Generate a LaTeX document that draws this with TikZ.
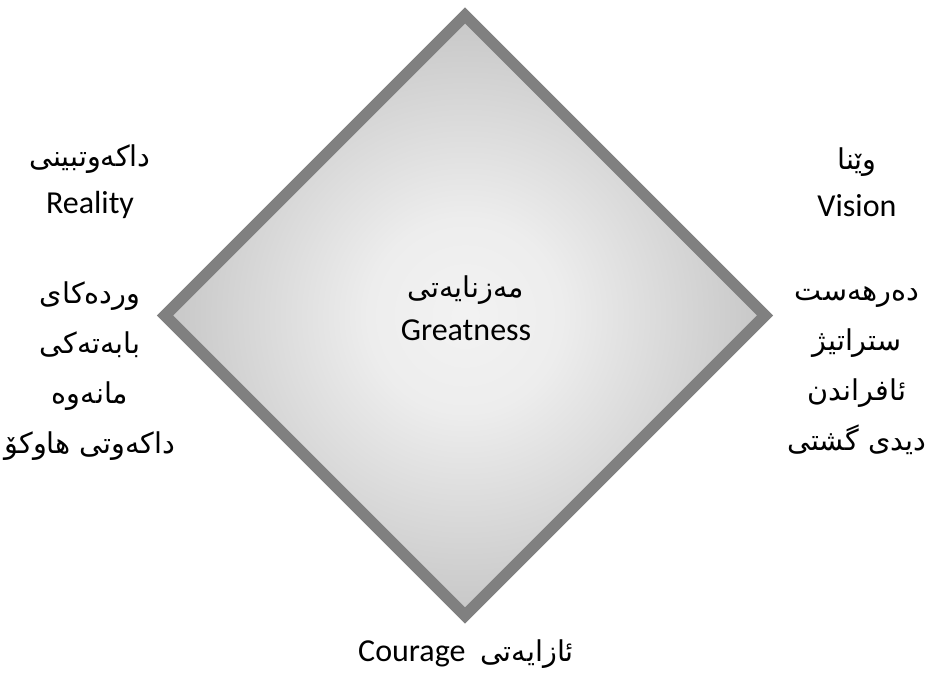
\documentclass[tikz,border=0pt]{standalone}
\usepackage{fontspec}
\setmainfont{Carlito}
\newfontfamily\arabicfont[Script=Arabic]{DejaVu Sans}
\TeXXeTstate=1
\newcommand{\ku}[1]{{\arabicfont\fontsize{21.5}{21.5}\selectfont\beginR #1\endR}}
\usetikzlibrary{shapes.geometric,positioning}
\pgfdeclareradialshading{greatglow}{\pgfpoint{0bp}{0bp}}{color(0bp)=(black!5); color(8bp)=(black!7); color(25bp)=(black!22); color(50bp)=(black!22)}

\begin{document}
\begin{tikzpicture}[
x=0.75pt, y=0.75pt,
dia/.style={diamond, aspect=1, draw=black!50, line width=8.5pt, shading=greatglow, minimum width=450pt, minimum height=450pt, inner sep=0pt, outer sep=0pt},
lbl/.style={align=center, inner sep=0pt, font=\fontsize{24}{35}\selectfont},
lst/.style={lbl, font=\fontsize{24}{37.5}\selectfont}
]
\useasboundingbox (0,0) rectangle (933,673);
\node[dia] (dia) at (465,357.5) {};
\node[lbl, font=\fontsize{24}{32}\selectfont] (great) at (466,365) {\ku{مەزنایەتی}\\Greatness};

% left side
\node[lbl] (reality) at (90,491) {\ku{داکەوتبینی}\\Reality};
\node[lst] (realitylist) at (90,302) {\ku{وردەکای}\\\ku{بابەتەکی}\\\ku{مانەوە}\\\ku{داکەوتی هاوکۆ}};

% right side
\node[lbl] (vision) at (857,491) {\ku{وێنا}\\Vision};
\node[lst] (visionlist) at (857,302) {\ku{دەرهەست}\\\ku{ستراتیژ}\\\ku{ئافراندن}\\\ku{دیدی گشتی}};

\node[lbl] (courage) at (466,19) {Courage\ \ \ku{ئازایەتی}};
\end{tikzpicture}
\end{document}
